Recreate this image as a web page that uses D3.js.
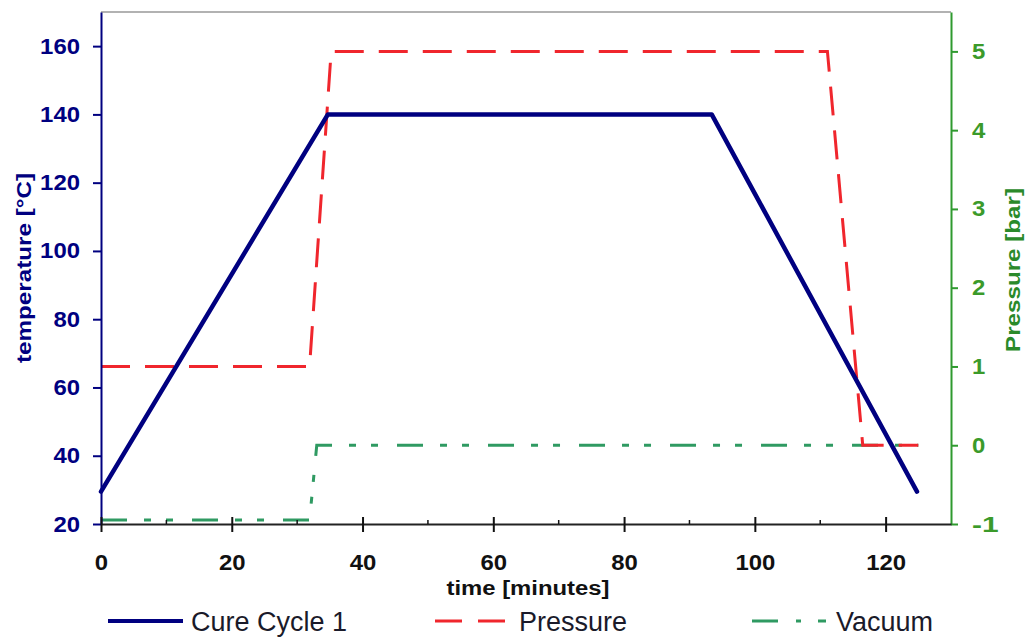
<!DOCTYPE html>
<html>
<head>
<meta charset="utf-8">
<script src="https://cdn.jsdelivr.net/npm/d3@7"></script>
<style>
  html, body { margin: 0; padding: 0; background: #fff; }
  svg { display: block; font-family: "Liberation Sans", Arial, sans-serif; }
</style>
</head>
<body>
<svg id="chart" width="1030" height="639"></svg>
<script>
// Cure cycle profile: time [min] vs temperature [°C]
const cureTime = [0, 34.7, 93.4, 124.8];
const cureTemp = [29.5, 140, 140, 29.5];

// Autoclave pressure [bar]
const pressureTime = [0, 31.9, 35.2, 111.1, 116.5, 125];
const pressureBar  = [1, 1, 5, 5, 0, 0];

// Vacuum [bar]
const vacuumTime = [0, 31.9, 33.0, 125];
const vacuumBar  = [-0.95, -0.95, 0, 0];

const xTicks = [0, 20, 40, 60, 80, 100, 120];
const xMinorTicks = [10, 30, 50, 70, 90, 110];
const tempTicks = [20, 40, 60, 80, 100, 120, 140, 160];
const barTicks = [-1, 0, 1, 2, 3, 4, 5];

const seriesNames = ["Cure Cycle 1", "Pressure", "Vacuum"];

const navy = "#000080";
const red = "#f0262d";
const green = "#2f9a62";
const axisGreen = "#2f9a2f";
const FONT = "Liberation Sans, Arial, sans-serif";

const svg = d3.select("#chart");
const plotLeft = 101, plotRight = 951, plotTop = 12, plotBottom = 524;

const x = d3.scaleLinear().domain([0, 130]).range([plotLeft, plotRight]);
const yT = d3.scaleLinear().domain([20, 170]).range([plotBottom, plotTop]);
const yP = d3.scaleLinear().domain([-1, 5.5]).range([plotBottom, plotTop]);

// frame top border
svg.append("line").attr("x1", plotLeft).attr("x2", plotRight).attr("y1", plotTop).attr("y2", plotTop)
  .attr("stroke", "#999").attr("stroke-width", 1.5);

// series
const lineT = d3.line().x(d => x(d[0])).y(d => yT(d[1]));
const lineP = d3.line().x(d => x(d[0])).y(d => yP(d[1]));

svg.append("path")
  .datum(vacuumTime.map((t, i) => [t, vacuumBar[i]]))
  .attr("d", lineP).attr("fill", "none").attr("stroke", green)
  .attr("stroke-width", 3).attr("stroke-dasharray", "26,17,7,15,7,19");

svg.append("path")
  .datum(pressureTime.map((t, i) => [t, pressureBar[i]]))
  .attr("d", lineP).attr("fill", "none").attr("stroke", red)
  .attr("stroke-width", 3).attr("stroke-dasharray", "29,15");

svg.append("path")
  .datum(cureTime.map((t, i) => [t, cureTemp[i]]))
  .attr("d", lineT).attr("fill", "none").attr("stroke", navy)
  .attr("stroke-width", 4.5).attr("stroke-linejoin", "round").attr("stroke-linecap", "round");

// tick label styling shared by all three axes
function styleTickText(sel, color) {
  sel.attr("fill", color).attr("font-size", 22).attr("font-weight", "bold")
    .attr("font-family", FONT)
    .attr("textLength", function() { return this.textContent.length * 13.3; })
    .attr("lengthAdjust", "spacingAndGlyphs");
}
const plainFormat = d => String(d);

// left axis
const gL = svg.append("g").attr("transform", `translate(${plotLeft},0)`)
  .call(d3.axisLeft(yT).tickValues(tempTicks).tickFormat(plainFormat)
    .tickSize(8).tickPadding(13).tickSizeOuter(0));
gL.select(".domain").attr("stroke", navy).attr("stroke-width", 2);
gL.selectAll(".tick line").attr("stroke", navy).attr("stroke-width", 2);
styleTickText(gL.selectAll(".tick text"), navy);

// right axis
const gR = svg.append("g").attr("transform", `translate(${plotRight},0)`)
  .call(d3.axisRight(yP).tickValues(barTicks).tickFormat(plainFormat)
    .tickSize(7).tickPadding(14).tickSizeOuter(0));
gR.select(".domain").attr("stroke", axisGreen).attr("stroke-width", 2);
gR.selectAll(".tick line").attr("stroke", axisGreen).attr("stroke-width", 2);
styleTickText(gR.selectAll(".tick text"), "#3b9a2a");

// bottom axis: major ticks cross the axis, minor ticks point inward
const gB = svg.append("g").attr("transform", `translate(0,${plotBottom})`)
  .call(d3.axisBottom(x).tickValues(xTicks).tickFormat(plainFormat)
    .tickSize(8).tickPadding(22).tickSizeOuter(0));
gB.select(".domain").attr("stroke", "#222").attr("stroke-width", 2);
gB.selectAll(".tick line").attr("stroke", "#111").attr("stroke-width", 2).attr("y1", -7);
styleTickText(gB.selectAll(".tick text"), "#111");
svg.append("g").selectAll("line").data(xMinorTicks).join("line")
  .attr("x1", d => x(d)).attr("x2", d => x(d))
  .attr("y1", plotBottom - 4).attr("y2", plotBottom)
  .attr("stroke", "#111").attr("stroke-width", 1.5);

// axis titles
svg.append("text").attr("transform", `translate(31,268) rotate(-90)`)
  .attr("text-anchor", "middle").attr("fill", navy).attr("font-size", 20).attr("font-weight", "bold")
  .attr("textLength", 190).attr("lengthAdjust", "spacingAndGlyphs")
  .text("temperature [°C]");
svg.append("text").attr("transform", `translate(1020,270) rotate(-90)`)
  .attr("text-anchor", "middle").attr("fill", "#2a8a2a").attr("font-size", 20).attr("font-weight", "bold")
  .attr("textLength", 164).attr("lengthAdjust", "spacingAndGlyphs")
  .text("Pressure [bar]");
svg.append("text").attr("x", 528).attr("y", 595)
  .attr("text-anchor", "middle").attr("fill", "#111").attr("font-size", 20).attr("font-weight", "bold")
  .attr("textLength", 163).attr("lengthAdjust", "spacingAndGlyphs")
  .text("time [minutes]");

// legend
const legendItems = [
  { name: seriesNames[0], color: navy, dash: null, width: 4, x0: 108, x1: 183, tx: 191 },
  { name: seriesNames[1], color: red, dash: "27,16", width: 3, x0: 435, x1: 506, tx: 519 },
  { name: seriesNames[2], color: green, dash: "26,18,5,17,8", width: 3, x0: 752, x1: 826, tx: 836 }
];
const lg = svg.append("g").selectAll("g").data(legendItems).join("g");
lg.append("line").attr("x1", d => d.x0).attr("x2", d => d.x1).attr("y1", 621).attr("y2", 621)
  .attr("stroke", d => d.color).attr("stroke-width", d => d.width)
  .attr("stroke-dasharray", d => d.dash);
lg.append("text").attr("x", d => d.tx).attr("y", 631).attr("fill", "#1a1a2a")
  .attr("font-size", 27).text(d => d.name);
</script>
</body>
</html>
